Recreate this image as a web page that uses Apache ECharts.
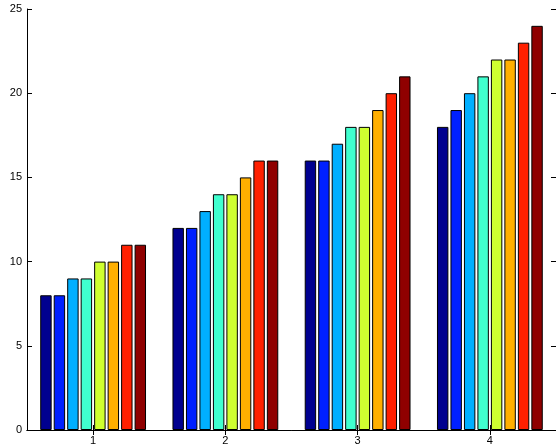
<!DOCTYPE html>
<html>
<head>
<meta charset="utf-8">
<script src="https://cdn.jsdelivr.net/npm/echarts@6/dist/echarts.min.js"></script>
<style>html,body{margin:0;padding:0;background:#fff;}#c{width:556px;height:448px;}</style>
</head>
<body>
<div id="c"></div>
<script>
var categories = ['1', '2', '3', '4'];
var s1 = [8, 12, 16, 18];
var s2 = [8, 12, 16, 19];
var s3 = [9, 13, 17, 20];
var s4 = [9, 14, 18, 21];
var s5 = [10, 14, 18, 22];
var s6 = [10, 15, 19, 22];
var s7 = [11, 16, 20, 23];
var s8 = [11, 16, 21, 24];
var seriesValues = [s1, s2, s3, s4, s5, s6, s7, s8];
var colors = ['#00008F', '#0020FF', '#00AFFF', '#40FFCF', '#CFFF30', '#FFAF00', '#FF2000', '#8F0000'];
var yTicks = [0, 5, 10, 15, 20, 25];

var font = 'Liberation Sans, Arial, sans-serif';
var chart = echarts.init(document.getElementById('c'), null, {renderer: 'canvas'});
var series = seriesValues.map(function (v, i) {
  return {
    type: 'bar',
    data: v,
    xAxisIndex: 0,
    yAxisIndex: 0,
    barCategoryGap: '20%',
    barGap: '18%',
    itemStyle: {color: colors[i], borderColor: '#000', borderWidth: 1},
    animation: false
  };
});
var axisLine = {show: true, lineStyle: {color: '#000', width: 1}};
chart.setOption({
  animation: false,
  grid: {left: 27, top: 9, width: 532, height: 421, containLabel: false},
  xAxis: [
    {type: 'category', data: categories, position: 'bottom', boundaryGap: true,
     axisLine: axisLine,
     axisTick: {show: true, inside: true, alignWithLabel: true, length: 5, lineStyle: {color: '#000'}},
     axisLabel: {margin: 5, color: '#000', fontSize: 11, fontFamily: font},
     splitLine: {show: false}},
    {type: 'category', data: categories, position: 'top', boundaryGap: true,
     axisLine: axisLine,
     axisTick: {show: true, inside: true, alignWithLabel: true, length: 5, lineStyle: {color: '#000'}},
     axisLabel: {show: false}, splitLine: {show: false}}
  ],
  yAxis: [
    {type: 'value', min: yTicks[0], max: yTicks[yTicks.length - 1], interval: 5, position: 'left',
     axisLine: axisLine,
     axisTick: {show: true, inside: true, length: 5, lineStyle: {color: '#000'}},
     axisLabel: {margin: 5, color: '#000', fontSize: 11, fontFamily: font},
     splitLine: {show: false}},
    {type: 'value', min: yTicks[0], max: yTicks[yTicks.length - 1], interval: 5, position: 'right',
     axisLine: axisLine,
     axisTick: {show: true, inside: true, length: 5, lineStyle: {color: '#000'}},
     axisLabel: {show: false}, splitLine: {show: false}}
  ],
  series: series
});
</script>
</body>
</html>
